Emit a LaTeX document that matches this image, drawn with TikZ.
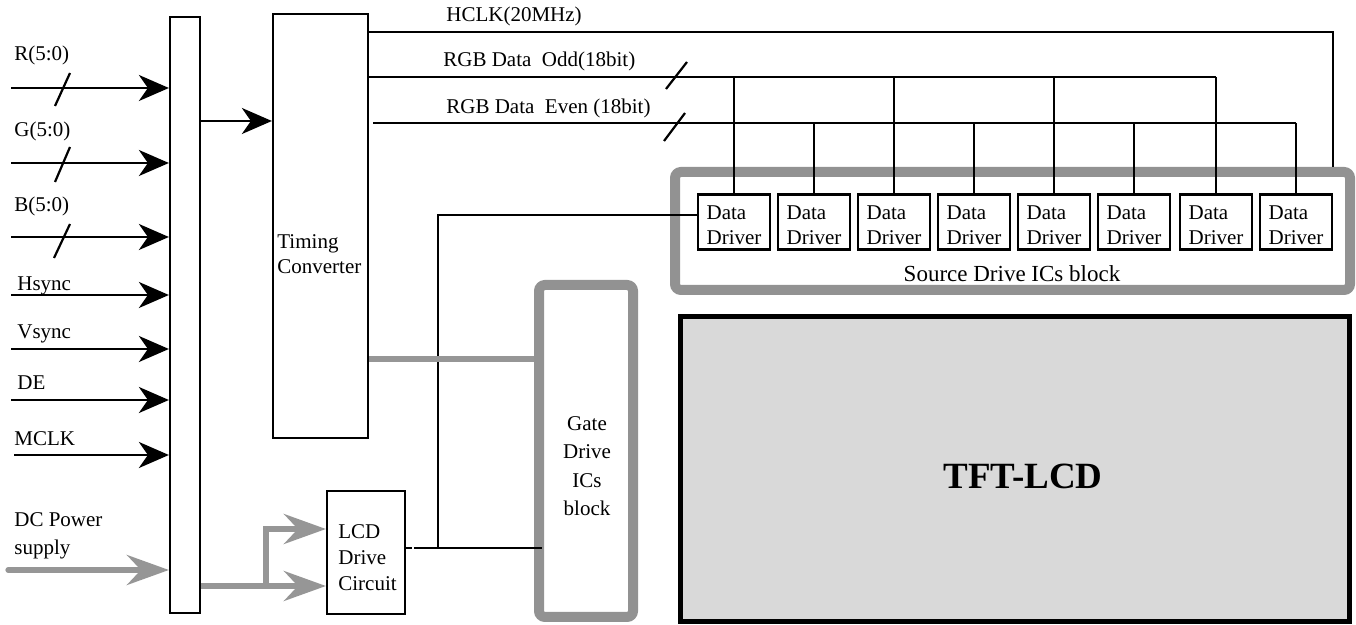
\documentclass[tikz,border=0pt]{standalone}
\usepackage{fontspec}
\setmainfont{Liberation Serif}
\usetikzlibrary{arrows.meta}
\definecolor{frameg}{HTML}{929292}
\definecolor{arrg}{HTML}{969696}
\definecolor{lcdfill}{HTML}{D9D9D9}
\begin{document}
\begin{tikzpicture}[x=0.5pt,y=-0.5pt,
  every node/.style={font=\fontsize{10.5}{12.5}\selectfont, inner sep=0pt},
  wire/.style={line width=1.1pt},
  boxn/.style={draw, line width=1.1pt, fill=white},
  blk/.style={line width=1.2pt, -{Stealth[length=15pt,width=13pt,inset=4.5pt]}},
  gra/.style={draw=arrg, line width=2.6pt, -{Stealth[length=21pt,width=15pt,inset=7pt]}},
  gline/.style={draw=arrg, line width=2.6pt},
  gframe/.style={draw=frameg, line width=5pt, rounded corners=3pt},
  lbl/.style={anchor=base west},
  drv/.style={boxn, minimum width=36pt, minimum height=27.5pt}]
\useasboundingbox (0,0) rectangle (1356,625);

% main blocks
\node[boxn, minimum width=15pt, minimum height=298pt] (bus) at (185,315) {};
\node[boxn, minimum width=47.5pt, minimum height=212pt] (tc) at (320.5,226) {};
\node[anchor=west, align=left] (tclbl) at (277,254) {Timing\\Converter};
\node[boxn, minimum width=39pt, minimum height=61.5pt] (lcd) at (366,552.5) {};
\node[anchor=west, align=left, font=\fontsize{10.5}{13}\selectfont] (lcdlbl) at (338,558) {LCD\\Drive\\Circuit};

\node[gframe, minimum width=47pt, minimum height=166pt] (gate) at (586,451) {};
\node[align=center, font=\fontsize{10.5}{14.2}\selectfont] (gatelbl) at (587,466) {Gate\\Drive\\ICs\\ block};

\node[gframe, minimum width=337.5pt, minimum height=59pt] (src) at (1012.5,231) {};
\node[font=\fontsize{11.5}{13}\selectfont] (srclbl) at (1012,274) {Source Drive ICs block};

\node[draw, line width=2.5pt, fill=lcdfill, minimum width=334.5pt, minimum height=152.5pt] (tft) at (1015,469) {};
\node[font=\fontsize{18.5}{20}\bfseries] (tftlbl) at (1023,476) {TFT-LCD};

% data drivers
\foreach \i/\x in {1/734,2/814,3/894,4/974,5/1054,6/1134,7/1216,8/1296}
  \node[drv, label={[align=left,yshift=-1.5pt]center:Data\\Driver}] (d\i) at (\x,222) {};

% input signals
\foreach \n/\y in {R/88,G/163,B/237,H/295,V/349,E/400}
  \coordinate (in\n) at (11,\y);
\coordinate (inM) at (14,455);
\foreach \n in {R,G,B,H,V,E,M}
  \draw[blk] (in\n) -- (in\n -| bus.west);
\node[lbl] (lR) at (14,61) {R(5:0)};
\node[lbl] (lG) at (14,137) {G(5:0)};
\node[lbl] (lB) at (14,212) {B(5:0)};
\node[lbl] (lH) at (17,291) {Hsync};
\node[lbl] (lV) at (17,339) {Vsync};
\node[lbl] (lE) at (17,390) {DE};
\node[lbl] (lM) at (14,446) {MCLK};
\node[lbl] (lDC) at (14,527) {DC Power};
\node[lbl] (lsup) at (14,555) {supply};
% bus slashes
\draw[wire] (55,106) -- (70,73);
\draw[wire] (55,182) -- (70,147);
\draw[wire] (54,258) -- (70,224);

% DC power
\coordinate (inDC) at (8,570);
\draw[gra, line cap=round] (inDC) -- (inDC -| bus.west);
\coordinate (br) at (266,586);
\draw[gra] (bus.east |- br) -- (lcd.west |- br);
\draw[gra] (br) |- (lcd.west |- 0,529);

% bus -> timing converter
\draw[blk] (bus.east |- 0,121) -- (tc.west |- 0,121);

% HCLK
\coordinate (hc) at (1333,32);
\draw[wire] (tc.east |- hc) -- (hc) -- (hc |- src.north);
\node[lbl] (lhc) at (446,22) {HCLK(20MHz)};

% RGB odd
\draw[wire] (tc.east |- 0,77) -- (d7.north |- 0,77);
\foreach \i in {1,3,5,7} \draw[wire] (d\i.north |- 0,77) -- (d\i.north);
\draw[wire] (666,89) -- (687,62);
\node[lbl] (lodd) at (443,67) {RGB Data\ \ Odd(18bit)};

% RGB even
\draw[wire] ([xshift=2pt]tc.east |- 0,123) -- (d8.north |- 0,123);
\foreach \i in {2,4,6,8} \draw[wire] (d\i.north |- 0,123) -- (d\i.north);
\draw[wire] (664,141) -- (685,113);
\node[lbl] (leven) at (446,114) {RGB Data\ \ Even (18bit)};

% gate control line
\coordinate (j) at (438,548);
\coordinate (k) at (414,548);
\draw[wire] (d1.west |- 0,215) -| (j);
\draw[wire] (lcd.east |- j) -- ++(6,0);
\draw[wire] (k) -- ([xshift=4pt]gate.west |- j);

% timing -> gate (gray)
\draw[gline] (tc.east |- 0,359) -- (gate.west |- 0,359);
\end{tikzpicture}
\end{document}
